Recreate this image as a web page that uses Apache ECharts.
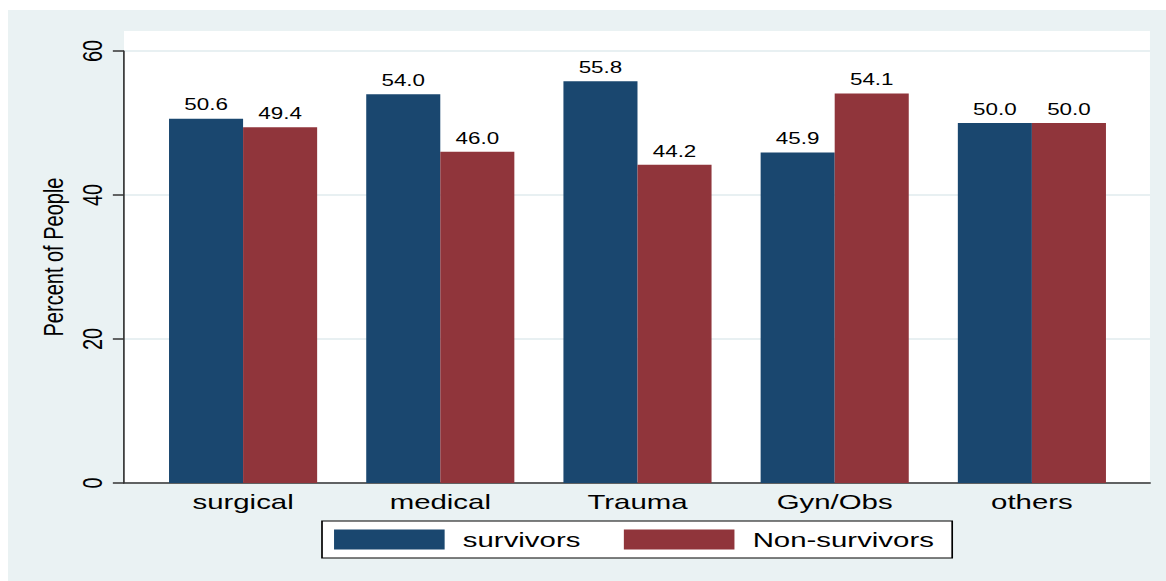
<!DOCTYPE html>
<html>
<head>
<meta charset="utf-8">
<script src="https://cdn.jsdelivr.net/npm/echarts@6/dist/echarts.min.js"></script>
<style>
  html, body { margin: 0; padding: 0; background: #ffffff; overflow: hidden; }
  #bg { position: absolute; left: 8px; top: 10px; right: 0; bottom: 0; background: #EAF2F3; }
  #chart { position: absolute; left: 0; top: 0; width: 833px; height: 581px;
           transform: scaleX(1.4); transform-origin: 0 0; }
</style>
</head>
<body>
<div id="bg"></div>
<div id="chart"></div>
<script>
// ---- data ----
const categories = ['surgical', 'medical', 'Trauma', 'Gyn/Obs', 'others'];
const survivors = [50.6, 54.0, 55.8, 45.9, 50.0];
const nonSurvivors = [49.4, 46.0, 44.2, 54.1, 50.0];
const yTicks = [0, 20, 40, 60];
const seriesNames = ['survivors', 'Non-survivors'];

const FONT = "'Liberation Sans', Arial, sans-serif";
const navy = '#1A476F';
const maroon = '#90353B';

const chart = echarts.init(document.getElementById('chart'), null, { renderer: 'svg' });

const yMin = yTicks[0];
const yMax = yTicks[yTicks.length - 1];
const yStep = yTicks[1] - yTicks[0];

const option = {
  animation: false,
  backgroundColor: 'transparent',
  textStyle: { fontFamily: FONT, color: '#000' },
  grid: [
    { left: 88.6, right: 11.6, top: 31, bottom: 98, show: true, backgroundColor: '#ffffff', borderWidth: 0 },
    { left: 88.6, right: 11.6, top: 51, bottom: 98 },
    { left: 103.2, right: 25.5, top: 51, bottom: 98 }
  ],
  xAxis: [
    { gridIndex: 0, type: 'value', show: false, min: 0, max: 1 },
    { gridIndex: 1, type: 'value', min: 0, max: 1,
      axisLine: { show: true, lineStyle: { color: '#333333', width: 1.6 } },
      axisTick: { show: false }, axisLabel: { show: false }, splitLine: { show: false } },
    { gridIndex: 2, type: 'category', data: categories,
      axisLine: { show: false }, axisTick: { show: false },
      axisLabel: { fontSize: 21, color: '#000', margin: 8, fontFamily: FONT },
      splitLine: { show: false } }
  ],
  yAxis: [
    { gridIndex: 0, type: 'value', show: false, min: 0, max: 1 },
    { gridIndex: 1, type: 'value', min: yMin, max: yMax, interval: yStep,
      name: 'Percent of People', nameLocation: 'middle', nameGap: 38,
      nameTextStyle: { fontSize: 20, color: '#000', fontFamily: FONT, padding: [0, 0, 0, 20] },
      axisLine: { show: true, lineStyle: { color: '#333333', width: 1.2 } },
      axisTick: { show: true, length: 8, lineStyle: { color: '#333333', width: 1.5 } },
      axisLabel: { rotate: 90, fontSize: 20, color: '#000', margin: 13, fontFamily: FONT },
      splitLine: { show: true, lineStyle: { color: '#E8F0F2', width: 2 } } },
    { gridIndex: 2, type: 'value', min: yMin, max: yMax, show: false }
  ],
  legend: {
    data: seriesNames,
    left: 230, top: 521,
    orient: 'horizontal',
    icon: 'rect',
    itemWidth: 79, itemHeight: 20, itemGap: 31,
    padding: [8, 13, 8, 8.6],
    backgroundColor: '#ffffff',
    borderColor: '#000000', borderWidth: 1.2,
    textStyle: { fontSize: 21, color: '#000', fontFamily: FONT, padding: [0, 0, 0, 8] }
  },
  series: [
    { name: seriesNames[0], type: 'bar', xAxisIndex: 2, yAxisIndex: 2,
      data: survivors, barWidth: 52.9, barGap: '0%',
      itemStyle: { color: navy },
      label: { show: true, position: 'top', distance: 6, fontSize: 16, color: '#000',
               fontFamily: FONT, formatter: p => p.value.toFixed(1) } },
    { name: seriesNames[1], type: 'bar', xAxisIndex: 2, yAxisIndex: 2,
      data: nonSurvivors, barWidth: 52.9, barGap: '0%',
      itemStyle: { color: maroon },
      label: { show: true, position: 'top', distance: 6, fontSize: 16, color: '#000',
               fontFamily: FONT, formatter: p => p.value.toFixed(1) } }
  ]
};
chart.setOption(option);
</script>
</body>
</html>
